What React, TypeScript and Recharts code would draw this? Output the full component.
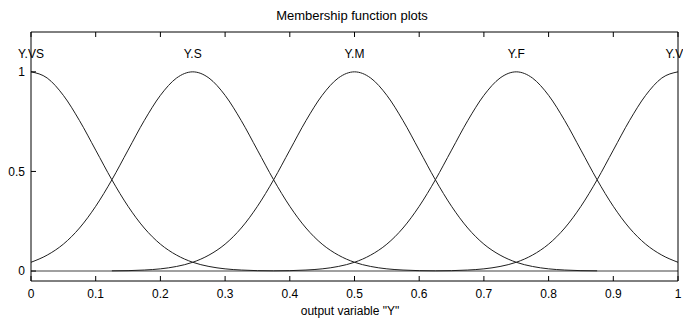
import React from "react";
import { LineChart, Line, XAxis, YAxis, ReferenceLine } from "recharts";

// sample points along the output variable (step 0.025)
const xs = [
  0, 0.025, 0.05, 0.075, 0.1, 0.125, 0.15, 0.175, 0.2, 0.225,
  0.25, 0.275, 0.3, 0.325, 0.35, 0.375, 0.4, 0.425, 0.45, 0.475,
  0.5, 0.525, 0.55, 0.575, 0.6, 0.625, 0.65, 0.675, 0.7, 0.725,
  0.75, 0.775, 0.8, 0.825, 0.85, 0.875, 0.9, 0.925, 0.95, 0.975, 1,
];

const mfNames = ["Y.VS", "Y.S", "Y.M", "Y.F", "Y.VF"];

const _ = null;
// membership values (null where the curve sits under the zero line)
const yVS = [1, 0.969, 0.882, 0.755, 0.607, 0.458, 0.325, 0.216, 0.135, 0.08, 0.044, 0.023, 0.011, 0.005, 0.002, 0.001,
  _, _, _, _, _, _, _, _, _, _, _, _, _, _, _, _, _, _, _, _, _, _, _, _, _];
const yS = [0.044, 0.08, 0.135, 0.216, 0.325, 0.458, 0.607, 0.755, 0.882, 0.969, 1, 0.969, 0.882, 0.755, 0.607, 0.458,
  0.325, 0.216, 0.135, 0.08, 0.044, 0.023, 0.011, 0.005, 0.002, 0.001,
  _, _, _, _, _, _, _, _, _, _, _, _, _, _, _];
const yM = [_, _, _, _, _, 0.001, 0.002, 0.005, 0.011, 0.023, 0.044, 0.08, 0.135, 0.216, 0.325, 0.458, 0.607, 0.755,
  0.882, 0.969, 1, 0.969, 0.882, 0.755, 0.607, 0.458, 0.325, 0.216, 0.135, 0.08, 0.044, 0.023, 0.011, 0.005, 0.002,
  0.001, _, _, _, _, _];
const yF = [_, _, _, _, _, _, _, _, _, _, _, _, _, _, _, 0.001, 0.002, 0.005, 0.011, 0.023, 0.044, 0.08, 0.135, 0.216,
  0.325, 0.458, 0.607, 0.755, 0.882, 0.969, 1, 0.969, 0.882, 0.755, 0.607, 0.458, 0.325, 0.216, 0.135, 0.08, 0.044];
const yVF = [_, _, _, _, _, _, _, _, _, _, _, _, _, _, _, _, _, _, _, _, _, _, _, _, _, 0.001, 0.002, 0.005, 0.011,
  0.023, 0.044, 0.08, 0.135, 0.216, 0.325, 0.458, 0.607, 0.755, 0.882, 0.969, 1];

const xTicks = [0, 0.1, 0.2, 0.3, 0.4, 0.5, 0.6, 0.7, 0.8, 0.9, 1];
const yTicks = [0, 0.5, 1];

const series = [yVS, yS, yM, yF, yVF];
const data = xs.map((x, i) => {
  const row: Record<string, number | null> = { x };
  series.forEach((s, k) => {
    row[mfNames[k]] = s[i];
  });
  return row;
});

const FONT = "'Liberation Sans', Arial, sans-serif";
const axisStroke = { stroke: "#000" };

function peakLabel(name: string) {
  return (props: any) => {
    const { x, y, value, index } = props;
    if (value !== 1) return <g key={`l-${name}-${index}`} />;
    return (
      <text key={`l-${name}-${index}`} x={x} y={y - 14} textAnchor="middle" fontSize={12} fill="#000" fontFamily={FONT}>
        {name}
      </text>
    );
  };
}

export default function App() {
  return (
    <div style={{ position: "relative", width: 683, height: 321, background: "#fff", fontFamily: FONT }}>
      <style>{"body{margin:0}"}</style>
      <div style={{ position: "absolute", left: 252, width: 200, top: 8, textAlign: "center", fontSize: 13, color: "#000" }}>
        Membership function plots
      </div>
      <LineChart width={683} height={321} data={data} margin={{ top: 31, right: 0, bottom: 0, left: 0 }} style={{ fontFamily: FONT }}>
        <XAxis
          dataKey="x"
          type="number"
          domain={[0, 1]}
          ticks={xTicks}
          interval={0}
          height={40}
          tickSize={-5}
          tickMargin={13}
          axisLine={axisStroke}
          tickLine={axisStroke}
          tick={{ fill: "#000", fontSize: 12 }}
        />
        <XAxis
          xAxisId="top"
          orientation="top"
          dataKey="x"
          type="number"
          domain={[0, 1]}
          ticks={xTicks}
          interval={0}
          height={1}
          tickSize={-5}
          axisLine={axisStroke}
          tickLine={axisStroke}
          tickFormatter={() => ""}
        />
        <YAxis
          type="number"
          domain={[-0.05, 1.2]}
          ticks={yTicks}
          interval={0}
          width={31}
          tickSize={-5}
          tickMargin={11}
          axisLine={axisStroke}
          tickLine={axisStroke}
          tick={{ fill: "#000", fontSize: 12 }}
        />
        <YAxis
          yAxisId="right"
          orientation="right"
          type="number"
          domain={[-0.05, 1.2]}
          ticks={yTicks}
          interval={0}
          width={5}
          tickSize={-5}
          axisLine={axisStroke}
          tickLine={axisStroke}
          tickFormatter={() => ""}
        />
        <ReferenceLine y={0} stroke="#808080" strokeWidth={1.5} />
        {mfNames.map((name) => (
          <Line
            key={name}
            dataKey={name}
            type="monotone"
            stroke="#1e1e1e"
            strokeWidth={1}
            dot={false}
            activeDot={false}
            connectNulls={false}
            isAnimationActive={false}
            label={peakLabel(name)}
          />
        ))}
      </LineChart>
      <div style={{ position: "absolute", left: 250, width: 200, top: 304, textAlign: "center", fontSize: 12, color: "#000" }}>
        output variable "Y"
      </div>
    </div>
  );
}
